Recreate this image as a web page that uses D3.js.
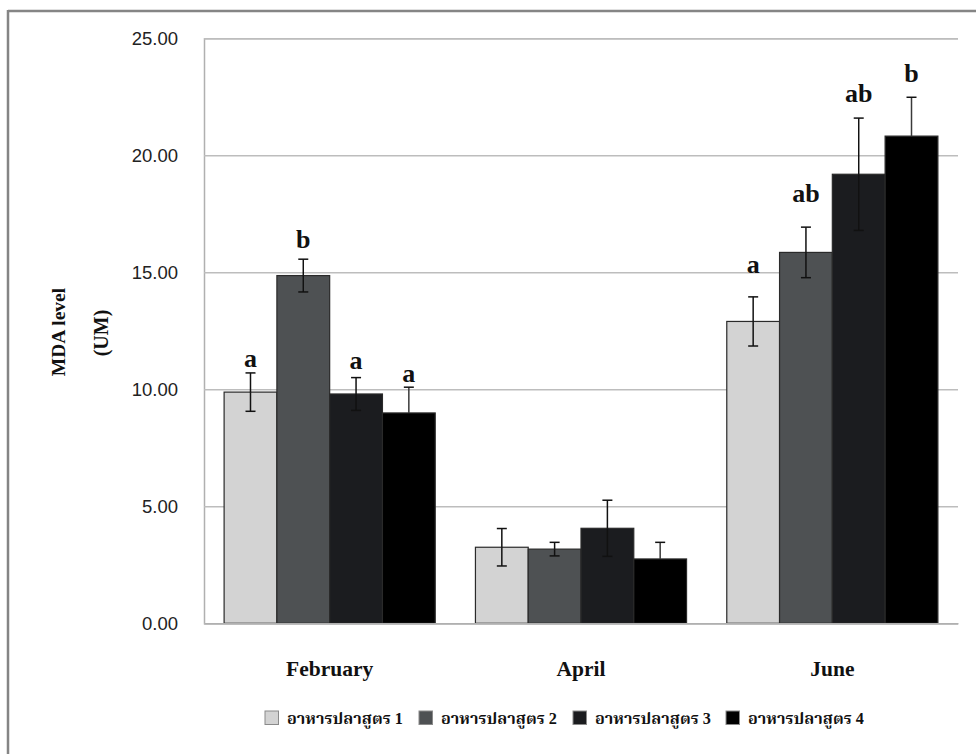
<!DOCTYPE html>
<html>
<head>
<meta charset="utf-8">
<script src="https://cdn.jsdelivr.net/npm/d3@7/dist/d3.min.js"></script>
<style>
  html, body { margin: 0; padding: 0; background: #fff; }
  svg { display: block; }
</style>
</head>
<body>
<svg id="chart" width="976" height="754"></svg>
<script>
// ---- data ----
const months = ["February", "April", "June"];
const seriesNames = ["อาหารปลาสูตร 1", "อาหารปลาสูตร 2", "อาหารปลาสูตร 3", "อาหารปลาสูตร 4"];
const formula1 = [9.88, 3.25, 12.90];
const formula2 = [14.86, 3.17, 15.85];
const formula3 = [9.80, 4.06, 19.19];
const formula4 = [8.99, 2.75, 20.82];
const err1 = [0.82, 0.80, 1.05];
const err2 = [0.70, 0.29, 1.08];
const err3 = [0.70, 1.20, 2.40];
const err4 = [1.10, 0.71, 1.66];
const letters1 = ["a", "", "a"];
const letters2 = ["b", "", "ab"];
const letters3 = ["a", "", "ab"];
const letters4 = ["a", "", "b"];
const letterAt1 = [10.95, 0, 14.97];
const letterAt2 = [16.04, 0, 18.02];
const letterAt3 = [10.87, 0, 22.29];
const letterAt4 = [10.31, 0, 23.15];
const yTicks = [0, 5, 10, 15, 20, 25];

const colors = ["#d3d3d3", "#4e5153", "#1b1c1f", "#000000"];

const values = [formula1, formula2, formula3, formula4];
const errs = [err1, err2, err3, err4];
const letters = [letters1, letters2, letters3, letters4];
const letterAt = [letterAt1, letterAt2, letterAt3, letterAt4];

const records = [];
months.forEach((m, mi) => {
  seriesNames.forEach((s, si) => {
    records.push({ month: m, series: s, si, value: values[si][mi], err: errs[si][mi],
                   letter: letters[si][mi], letterY: letterAt[si][mi] });
  });
});

// ---- layout ----
const svg = d3.select("#chart");
const plotL = 204, plotR = 958, plotT = 38.3, plotB = 623.3;

const x0 = d3.scaleBand().domain(months).range([plotL, plotR]).paddingInner(0.16).paddingOuter(0.08);
const x1 = d3.scaleBand().domain(seriesNames).range([0, x0.bandwidth()]).padding(0);
const y = d3.scaleLinear().domain([0, 25]).range([plotB, plotT]);

// outer frame
svg.append("line").attr("x1", 8).attr("x2", 976).attr("y1", 11).attr("y2", 11)
  .attr("stroke", "#858585").attr("stroke-width", 2.5);
svg.append("line").attr("x1", 8).attr("x2", 8).attr("y1", 10).attr("y2", 754)
  .attr("stroke", "#858585").attr("stroke-width", 2.5);

// gridlines + y axis
const yAxis = d3.axisLeft(y).tickValues(yTicks).tickSize(-(plotR - plotL)).tickPadding(26)
  .tickFormat(d3.format(".2f"));
const gy = svg.append("g").attr("transform", `translate(${plotL},0)`).call(yAxis);
gy.select(".domain").attr("stroke", "#b0b0b0").attr("stroke-width", 1.5);
gy.selectAll(".tick line").attr("stroke", "#bdbdbd").attr("stroke-width", 1.5);
gy.selectAll(".tick text").attr("font-family", "'Liberation Sans', Arial, sans-serif")
  .attr("font-size", 18.5).attr("fill", "#222");

// bars
const groups = svg.append("g").selectAll("g").data(records).join("g");
groups.append("rect")
  .attr("x", d => x0(d.month) + x1(d.series))
  .attr("width", x1.bandwidth())
  .attr("y", d => y(d.value))
  .attr("height", d => y(0) - y(d.value))
  .attr("fill", d => colors[d.si])
  .attr("stroke", "#2a2a2a").attr("stroke-width", 1.2);

// error bars
const cx = d => x0(d.month) + x1(d.series) + x1.bandwidth() / 2;
groups.append("line")
  .attr("x1", cx).attr("x2", cx)
  .attr("y1", d => y(d.value + d.err)).attr("y2", d => y(d.value))
  .attr("stroke", d => d.si === 3 ? "#3a3a3a" : "#111").attr("stroke-width", 1.5);
groups.filter(d => d.si !== 3).append("line")
  .attr("x1", cx).attr("x2", cx)
  .attr("y1", d => y(d.value)).attr("y2", d => y(d.value - d.err))
  .attr("stroke", "#111").attr("stroke-width", 1.5);
groups.append("line")
  .attr("x1", d => cx(d) - 5).attr("x2", d => cx(d) + 5)
  .attr("y1", d => y(d.value + d.err)).attr("y2", d => y(d.value + d.err))
  .attr("stroke", "#111").attr("stroke-width", 1.5);
groups.filter(d => d.si !== 3).append("line")
  .attr("x1", d => cx(d) - 5).attr("x2", d => cx(d) + 5)
  .attr("y1", d => y(d.value - d.err)).attr("y2", d => y(d.value - d.err))
  .attr("stroke", "#111").attr("stroke-width", 1.5);

// significance letters
groups.filter(d => d.letter).append("text")
  .attr("x", cx).attr("y", d => y(d.letterY))
  .attr("text-anchor", "middle")
  .attr("font-family", "'Liberation Serif', 'Times New Roman', serif")
  .attr("font-weight", "bold").attr("font-size", 26).attr("fill", "#111")
  .text(d => d.letter);

// x category labels
const xAxis = d3.axisBottom(x0).tickSize(0).tickPadding(0);
const gx = svg.append("g").attr("transform", `translate(0,${plotB})`).call(xAxis);
gx.select(".domain").attr("stroke", "#b0b0b0").attr("stroke-width", 1.5);
gx.selectAll(".tick text").attr("dy", null).attr("y", 53)
  .attr("font-family", "'Liberation Serif', 'Times New Roman', serif")
  .attr("font-weight", "bold").attr("font-size", 21.5).attr("fill", "#111");

// y title
const yt = svg.append("g").attr("font-family", "'Liberation Serif', 'Times New Roman', serif")
  .attr("font-weight", "bold").attr("fill", "#111").attr("text-anchor", "middle");
yt.append("text").attr("transform", "translate(65,332) rotate(-90)").attr("font-size", 19.5).text("MDA level");
yt.append("text").attr("transform", "translate(108,333) rotate(-90)").attr("font-size", 20).text("(UM)");

// legend
const legendX = [265, 419, 573, 726];
const lg = svg.append("g").selectAll("g").data(seriesNames).join("g")
  .attr("transform", (d, i) => `translate(${legendX[i]},711)`);
lg.append("rect").attr("width", 13.5).attr("height", 13.5)
  .attr("fill", (d, i) => colors[i]).attr("stroke", "#8a8a8a").attr("stroke-width", 1);
lg.append("text").attr("x", 22).attr("y", 12.5)
  .attr("font-family", "'Liberation Serif', 'Noto Serif Thai', 'Noto Sans Thai', 'Loma', 'Garuda', serif")
  .attr("font-weight", "bold").attr("font-size", 16).attr("fill", "#111")
  .attr("textLength", 116).attr("lengthAdjust", "spacingAndGlyphs")
  .text(d => d);
</script>
</body>
</html>
